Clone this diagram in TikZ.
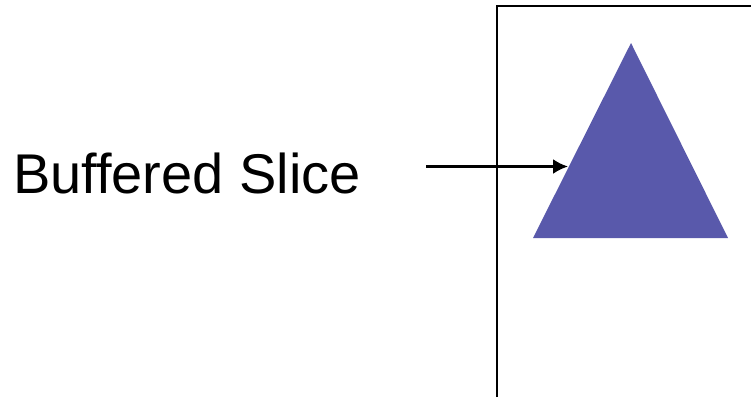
\documentclass[tikz,border=0pt]{standalone}
\usepackage{fontspec}
\setmainfont{Liberation Sans}
\usetikzlibrary{arrows.meta, positioning, calc}
\definecolor{slice}{RGB}{89,89,171}

\begin{document}
\begin{tikzpicture}[x=1pt, y=-1pt,
    frameline/.style={line width=2pt, black},
    pointer/.style={line width=2.4pt, -{Latex[length=15pt, width=15pt]}}]
  \useasboundingbox (0,0) rectangle (751,397);

  % Label on the left
  \node[font=\fontsize{56}{62}\selectfont, inner sep=0pt, anchor=base west] (label) at (13,193) {Buffered Slice};

  % Frame, open to the bottom and right
  \coordinate (frameBot) at (497,397);
  \coordinate (frameTop) at (497,6);
  \coordinate (frameEnd) at (752,6);
  \draw[frameline] (frameBot) -- (frameTop) -- (frameEnd);

  % Slice triangle
  \coordinate (apex) at (631,43);
  \coordinate (baseL) at (533,238);
  \coordinate (baseR) at (728,238);
  \fill[slice] (apex) -- (baseR) -- (baseL) -- cycle;

  % Pointer into the triangle
  \coordinate (start) at (426,166.5);
  \coordinate (hit) at (568,166.5);
  \draw[pointer] (start) -- (hit);
\end{tikzpicture}
\end{document}
